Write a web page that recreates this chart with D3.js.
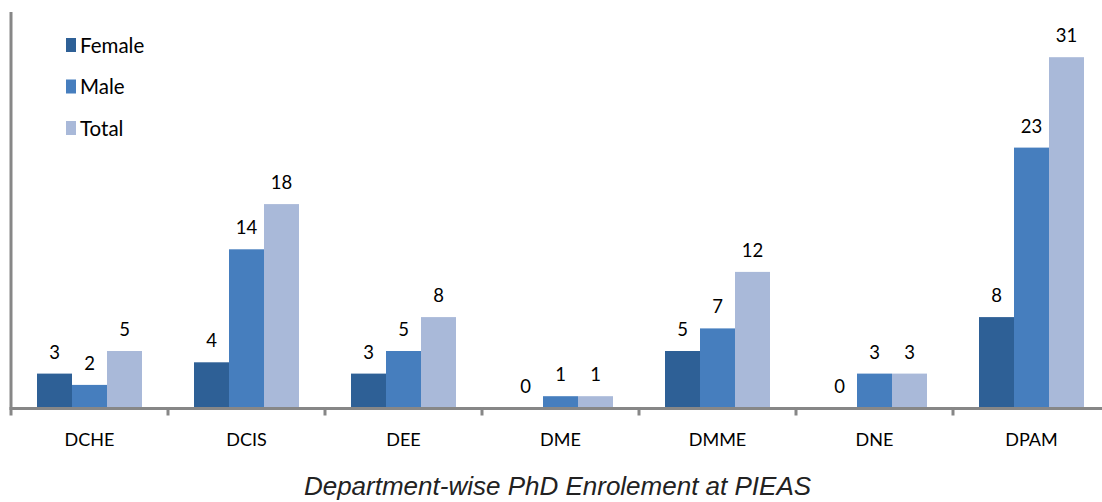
<!DOCTYPE html>
<html>
<head>
<meta charset="utf-8">
<script src="https://cdn.jsdelivr.net/npm/d3@7"></script>
<style>
  body { margin: 0; background: #fff; }
  svg { display: block; }
</style>
</head>
<body>
<svg id="chart" width="1102" height="502"></svg>
<script>
const departments = ["DCHE", "DCIS", "DEE", "DME", "DMME", "DNE", "DPAM"];
const seriesNames = ["Female", "Male", "Total"];
const female = [3, 4, 3, 0, 5, 0, 8];
const male = [2, 14, 5, 1, 7, 3, 23];
const total = [5, 18, 8, 1, 12, 3, 31];
const colors = ["#2E6096", "#467EBE", "#A9B9D9"];

const values = [female, male, total];
const data = [];
departments.forEach((dep, i) => {
    seriesNames.forEach((s, j) => {
        data.push({ dep: dep, series: s, value: values[j][i] });
    });
});

const svg = d3.select("#chart");
const plotLeft = 11, plotRight = 1110, baseline = 407.5, plotTop = 12;

const x = d3.scaleBand()
    .domain(departments)
    .range([plotLeft, plotRight])
    .paddingInner(0)
    .paddingOuter(0);

const xInner = d3.scaleBand()
    .domain(seriesNames)
    .range([0, 105]);

const y = d3.scaleLinear()
    .domain([0, 35])
    .range([baseline, plotTop]);

const color = d3.scaleOrdinal(seriesNames, colors);

const groupOffset = (x.bandwidth() - 105) / 2;

// bars
svg.append("g")
    .selectAll("rect")
    .data(data)
    .enter()
    .append("rect")
    .attr("x", d => x(d.dep) + groupOffset + xInner(d.series))
    .attr("y", d => y(d.value))
    .attr("width", xInner.bandwidth())
    .attr("height", d => baseline - y(d.value))
    .attr("fill", d => color(d.series));

// value labels
svg.append("g")
    .selectAll("text")
    .data(data)
    .enter()
    .append("text")
    .attr("x", d => x(d.dep) + groupOffset + xInner(d.series) + xInner.bandwidth() / 2)
    .attr("y", d => y(d.value) - 15)
    .attr("text-anchor", "middle")
    .attr("font-family", "Lato, 'Open Sans', sans-serif")
    .attr("font-size", 18.5)
    .attr("fill", "#000")
    .text(d => d.value);

// axes
const axisColor = "#878787";
svg.append("line")
    .attr("x1", plotLeft).attr("x2", plotLeft)
    .attr("y1", y(35)).attr("y2", baseline + 8)
    .attr("stroke", axisColor).attr("stroke-width", 3);

svg.append("line")
    .attr("x1", plotLeft - 1.5).attr("x2", plotRight)
    .attr("y1", baseline + 1).attr("y2", baseline + 1)
    .attr("stroke", axisColor).attr("stroke-width", 3);

svg.append("g")
    .selectAll("line")
    .data(departments.slice(1))
    .enter()
    .append("line")
    .attr("x1", d => x(d)).attr("x2", d => x(d))
    .attr("y1", baseline).attr("y2", baseline + 8)
    .attr("stroke", axisColor).attr("stroke-width", 3);

svg.append("g")
    .selectAll("text")
    .data(departments)
    .enter()
    .append("text")
    .attr("x", d => x(d) + x.bandwidth() / 2)
    .attr("y", 446)
    .attr("text-anchor", "middle")
    .attr("font-family", "Lato, 'Open Sans', sans-serif")
    .attr("font-size", 18)
    .attr("fill", "#000")
    .text(d => d);

// legend
const legend = svg.append("g")
    .selectAll("g")
    .data(seriesNames)
    .enter()
    .append("g")
    .attr("transform", (d, i) => `translate(66, ${38 + i * 41.5})`);

legend.append("rect")
    .attr("width", 10)
    .attr("height", 14)
    .attr("fill", d => color(d));

legend.append("text")
    .attr("x", 14)
    .attr("y", 14.5)
    .attr("font-family", "Lato, 'Open Sans', sans-serif")
    .attr("font-size", 20.5)
    .attr("fill", "#000")
    .text(d => d);

// title
svg.append("text")
    .attr("x", 557.5)
    .attr("y", 495)
    .attr("text-anchor", "middle")
    .attr("font-family", "'Liberation Sans', Arial, sans-serif")
    .attr("font-style", "italic")
    .attr("font-size", 26)
    .attr("fill", "#222")
    .text("Department-wise PhD Enrolement at PIEAS");
</script>
</body>
</html>
